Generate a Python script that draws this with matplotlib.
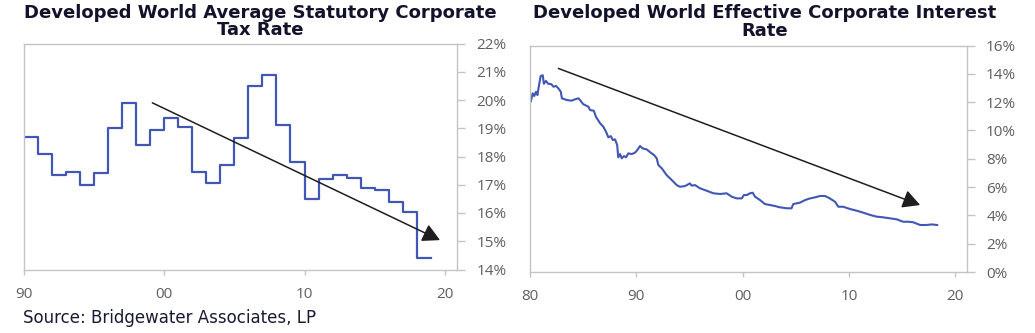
import matplotlib
matplotlib.use("Agg")
import matplotlib.pyplot as plt

# ---- data: left panel (statutory tax rate, annual steps) ----
tax_years = [1990, 1991, 1992, 1993, 1994, 1995, 1996, 1997, 1998, 1999,
             2000, 2001, 2002, 2003, 2004, 2005, 2006, 2007, 2008, 2009,
             2010, 2011, 2012, 2013, 2014, 2015, 2016, 2017, 2018, 2019]
tax_rate = [18.7, 18.1, 17.35, 17.45, 17.0, 17.4, 19.0, 19.9, 18.4, 18.95,
            19.35, 19.05, 17.45, 17.05, 17.7, 18.65, 20.5, 20.9, 19.1, 17.8,
            16.5, 17.2, 17.35, 17.25, 16.9, 16.8, 16.4, 16.05, 14.4, 14.4]

# ---- data: right panel (effective corporate interest rate) ----
int_years = [1980.0, 1980.07, 1980.25, 1980.4, 1980.56, 1980.7, 1980.85, 1981.0,
             1981.2, 1981.3, 1981.5, 1981.7, 1982.0, 1982.2, 1982.45, 1982.67,
             1982.9, 1983.0, 1983.45, 1983.9, 1984.2, 1984.55, 1984.7, 1985.0,
             1985.5, 1985.65, 1986.0, 1986.2, 1986.6, 1986.9, 1987.15, 1987.37,
             1987.6, 1987.8, 1988.0, 1988.2, 1988.3, 1988.47, 1988.63, 1988.84,
             1989.03, 1989.25, 1989.57, 1989.88, 1990.1, 1990.35, 1990.6, 1990.98,
             1991.35, 1991.67, 1991.92, 1992.07, 1992.4, 1992.85, 1993.33, 1993.8,
             1994.1, 1994.58, 1995.05, 1995.2, 1995.52, 1996.0, 1996.62, 1997.25,
             1997.87, 1998.5, 1998.97, 1999.45, 1999.92, 2000.13, 2000.4, 2000.7,
             2000.95, 2001.17, 2001.64, 2002.1, 2002.58, 2003.05, 2003.5, 2004.15,
             2004.6, 2004.77, 2005.4, 2005.87, 2006.34, 2006.8, 2007.28, 2007.75,
             2008.2, 2008.7, 2009.0, 2009.47, 2010.1, 2010.73, 2011.35, 2012.0,
             2012.6, 2013.24, 2013.87, 2014.5, 2015.1, 2015.6, 2016.06, 2016.7,
             2017.3, 2017.8, 2018.3]
int_rate = [12.0, 12.03, 12.62, 12.43, 12.73, 12.5, 13.2, 13.84,
            13.9, 13.3, 13.5, 13.3, 13.27, 13.09, 13.14, 12.97,
            12.73, 12.27, 12.15, 12.1, 12.19, 12.27, 12.15, 11.86,
            11.67, 11.44, 11.39, 10.97, 10.5, 10.26, 9.91, 9.51,
            9.6, 9.32, 9.37, 8.97, 8.1, 8.33, 8.03, 8.19,
            8.1, 8.38, 8.33, 8.43, 8.62, 8.9, 8.73, 8.66,
            8.43, 8.26, 8.03, 7.56, 7.32, 6.85, 6.5, 6.14,
            6.02, 6.07, 6.26, 6.1, 6.14, 5.91, 5.74, 5.56,
            5.51, 5.56, 5.32, 5.2, 5.2, 5.44, 5.44, 5.56,
            5.6, 5.32, 5.08, 4.8, 4.73, 4.66, 4.57, 4.5,
            4.5, 4.8, 4.9, 5.08, 5.2, 5.27, 5.37, 5.37,
            5.2, 4.96, 4.61, 4.61, 4.45, 4.33, 4.19, 4.03,
            3.91, 3.86, 3.79, 3.72, 3.55, 3.55, 3.51, 3.32,
            3.32, 3.36, 3.32]

# trend arrows (start, end) in data coords
tax_arrow = [(1999.17, 19.9), (2019.64, 15.04)]
int_arrow = [(1982.67, 14.38), (2016.7, 4.73)]

left_xticks = [1990, 2000, 2010, 2020]
left_xlabels = ["90", "00", "10", "20"]
left_yticks = [14, 15, 16, 17, 18, 19, 20, 21, 22]
right_xticks = [1980, 1990, 2000, 2010, 2020]
right_xlabels = ["80", "90", "00", "10", "20"]
right_yticks = [0, 2, 4, 6, 8, 10, 12, 14, 16]

# ---- styling ----
W, H = 1035, 333
fig = plt.figure(figsize=(W / 100, H / 100), dpi=100)
LINE = "#4157b3"
SPINE = "#c4c4c4"
TICKLBL = "#5f5f5f"
TITLE = "#12122a"
TICKFONT = "Open Sans"


def frac_box(x0, x1, ytop, ybot):
    return [x0 / W, 1 - ybot / H, (x1 - x0) / W, (ybot - ytop) / H]


def style(ax, xticks, xlabels, yticks):
    for s in ax.spines.values():
        s.set_color(SPINE)
        s.set_linewidth(1.0)
    ax.yaxis.tick_right()
    ax.set_xticks(xticks)
    ax.set_xticklabels(xlabels)
    ax.set_yticks(yticks)
    ax.set_yticklabels([f"{v}%" for v in yticks])
    ax.tick_params(axis="y", length=6, width=1.0, color=SPINE, pad=8,
                   labelsize=11, labelcolor=TICKLBL)
    ax.tick_params(axis="x", length=3.5, width=1.0, color=SPINE, pad=9,
                   labelsize=11, labelcolor=TICKLBL)
    for lbl in ax.get_xticklabels() + ax.get_yticklabels():
        lbl.set_family(TICKFONT)


ARROW = dict(arrowstyle="-|>,head_length=0.75,head_width=0.4",
             color="#1e1e1e", lw=1.1, mutation_scale=14,
             shrinkA=0, shrinkB=0)

# left panel
ax1 = fig.add_axes(frac_box(23.5, 457, 43.5, 269.5))
ax1.step(tax_years, tax_rate, where="post", color=LINE, lw=1.6)
ax1.set_xlim(1990, 2020.85)
ax1.set_ylim(14, 22)
style(ax1, left_xticks, left_xlabels, left_yticks)
ax1.annotate("", xy=tax_arrow[1], xytext=tax_arrow[0], arrowprops=ARROW)

# right panel
ax2 = fig.add_axes(frac_box(530, 966.7, 45.5, 272))
ax2.plot(int_years, int_rate, color=LINE, lw=1.5)
ax2.set_xlim(1980, 2021.08)
ax2.set_ylim(0, 16)
style(ax2, right_xticks, right_xlabels, right_yticks)
ax2.annotate("", xy=int_arrow[1], xytext=int_arrow[0], arrowprops=ARROW)

# titles
TFS = 13
fig.text(260 / W, 1 - 12.5 / H, "Developed World Average Statutory Corporate",
         ha="center", va="center", fontsize=TFS, fontweight="bold",
         family="DejaVu Sans", color=TITLE)
fig.text(260 / W, 1 - 30 / H, "Tax Rate",
         ha="center", va="center", fontsize=TFS, fontweight="bold",
         family="DejaVu Sans", color=TITLE)
fig.text(765 / W, 1 - 13.5 / H, "Developed World Effective Corporate Interest",
         ha="center", va="center", fontsize=TFS, fontweight="bold",
         family="DejaVu Sans", color=TITLE)
fig.text(765 / W, 1 - 31 / H, "Rate",
         ha="center", va="center", fontsize=TFS, fontweight="bold",
         family="DejaVu Sans", color=TITLE)

# source
fig.text(23 / W, 1 - 318 / H, "Source: Bridgewater Associates, LP",
         ha="left", va="center", fontsize=12, family="DejaVu Sans",
         color="#1a1a33")

fig.savefig("out.png", dpi=100)
